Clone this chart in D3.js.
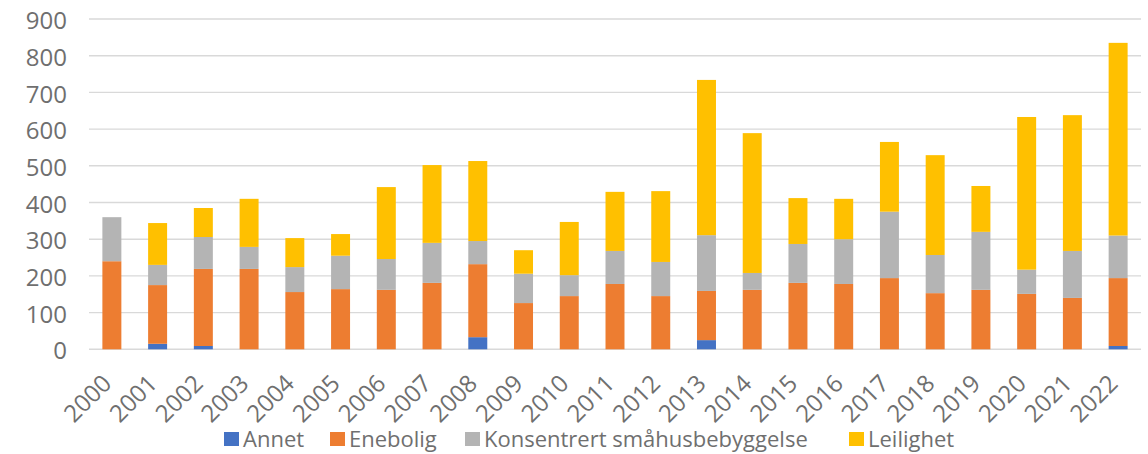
<!DOCTYPE html>
<html>
<head>
<meta charset="utf-8">
<script src="https://cdn.jsdelivr.net/npm/d3@7"></script>
<style>
  html, body { margin: 0; padding: 0; background: #fff; }
  svg { display: block; font-family: "Open Sans", "Liberation Sans", sans-serif; }
</style>
</head>
<body>
<svg id="chart" width="1148" height="454"></svg>
<script>
// Completed dwellings per year, by building type
const years = ["2000","2001","2002","2003","2004","2005","2006","2007","2008","2009","2010","2011",
               "2012","2013","2014","2015","2016","2017","2018","2019","2020","2021","2022"];
const annet       = [0, 15, 9, 0, 0, 0, 0, 0, 33, 0, 0, 0, 0, 25, 0, 0, 0, 0, 0, 0, 0, 0, 9];
const enebolig    = [240, 160, 210, 219, 156, 164, 162, 181, 199, 126, 145, 178, 145, 134, 162, 181, 178, 194, 153, 162, 151, 140, 185];
const konsentrert = [120, 55, 87, 60, 68, 91, 84, 109, 63, 80, 57, 90, 93, 152, 46, 106, 122, 181, 104, 158, 66, 128, 116];
const leilighet   = [0, 114, 79, 131, 79, 59, 196, 212, 218, 64, 145, 161, 193, 423, 381, 125, 110, 190, 272, 125, 416, 370, 525];
const seriesNames = ["Annet", "Enebolig", "Konsentrert småhusbebyggelse", "Leilighet"];
const seriesColors = ["#4472c4", "#ed7d31", "#b4b4b4", "#ffc000"];
const yTicks = [0, 100, 200, 300, 400, 500, 600, 700, 800, 900];

const rows = years.map((y, i) => ({
  year: y,
  "Annet": annet[i],
  "Enebolig": enebolig[i],
  "Konsentrert småhusbebyggelse": konsentrert[i],
  "Leilighet": leilighet[i]
}));

const svg = d3.select("#chart");
const margin = { left: 89, right: 7, top: 19, bottom: 104.7 };
const W = 1148, H = 454;

const x = d3.scaleBand().domain(years)
  .range([margin.left, W - margin.right])
  .paddingInner(0.585).paddingOuter(0.2925);
const y = d3.scaleLinear().domain([0, 900]).range([H - margin.bottom, margin.top]);

const textColor = "#6f6f6f";

// horizontal gridlines
svg.append("g")
  .selectAll("line").data(yTicks).join("line")
  .attr("x1", margin.left).attr("x2", W - margin.right)
  .attr("y1", d => y(d)).attr("y2", d => y(d))
  .attr("stroke", "#d9d9d9").attr("stroke-width", 1.4);

// y axis labels
const yAxis = d3.axisLeft(y).tickValues(yTicks).tickSize(0).tickPadding(22);
const ga = svg.append("g").attr("transform", `translate(${margin.left},0)`).call(yAxis);
ga.select(".domain").remove();
ga.selectAll("text").attr("fill", textColor).attr("dy", "0.4em").style("font-size", "24px")
  .style("font-family", "'Open Sans', 'Liberation Sans', sans-serif");

// stacked bars
const stack = d3.stack().keys(seriesNames);
const layers = stack(rows);
svg.append("g").selectAll("g").data(layers).join("g")
  .attr("fill", (d, i) => seriesColors[i])
  .selectAll("rect").data(d => d).join("rect")
  .attr("x", d => x(d.data.year))
  .attr("width", x.bandwidth())
  .attr("y", d => y(d[1]))
  .attr("height", d => y(d[0]) - y(d[1]));

// x axis labels, rotated
svg.append("g").selectAll("text").data(years).join("text")
  .attr("transform", d => `translate(${x(d) + x.bandwidth() / 2 + 1},385) rotate(-45)`)
  .attr("text-anchor", "end")
  .attr("fill", textColor)
  .style("font-size", "24px")
  .text(d => d);

// legend
const legendX = [224, 330, 465, 849];
const lg = svg.append("g").selectAll("g").data(seriesNames).join("g")
  .attr("transform", (d, i) => `translate(${legendX[i]},432)`);
lg.append("rect").attr("width", 15).attr("height", 14).attr("fill", (d, i) => seriesColors[i]);
lg.append("text").attr("x", 19).attr("y", 15)
  .attr("fill", textColor).style("font-size", "22px")
  .text(d => d);
</script>
</body>
</html>
